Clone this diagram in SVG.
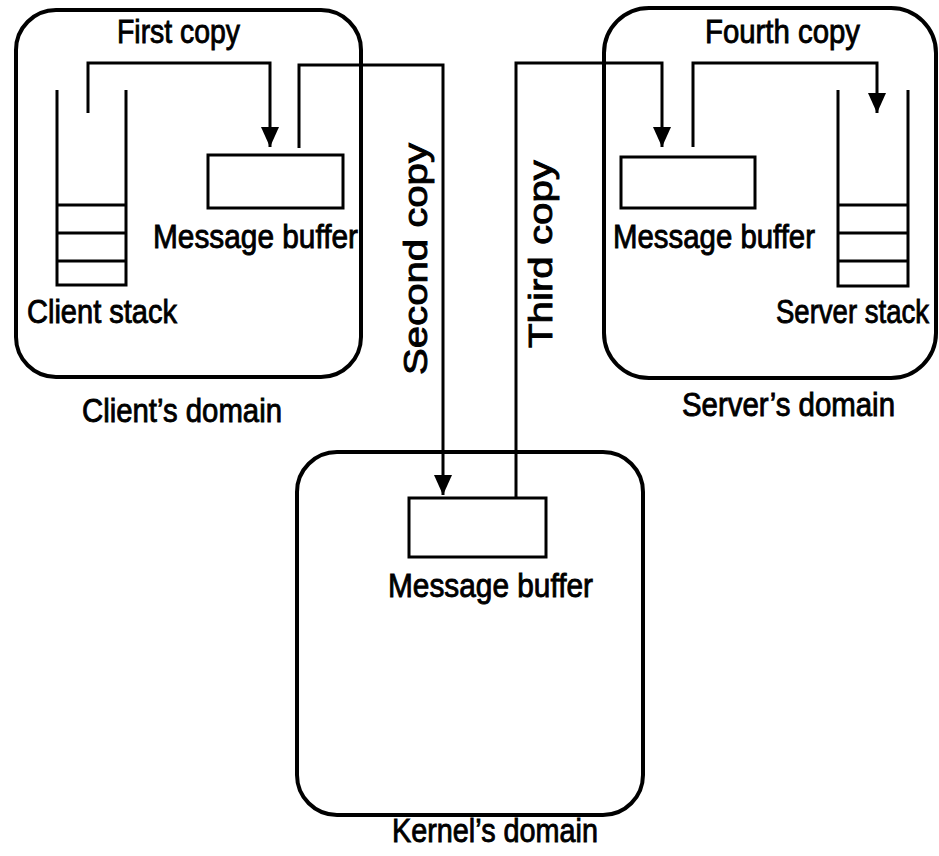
<svg xmlns="http://www.w3.org/2000/svg" width="939" height="856" viewBox="0 0 939 856">
  <defs>
    <style>
      .domain { fill: none; stroke: #000; stroke-width: 4; }
      .buf { fill: #fff; stroke: #000; stroke-width: 3; }
      .stk { fill: none; stroke: #000; stroke-width: 3; }
      .wire { fill: none; stroke: #000; stroke-width: 3; }
      text { font-family: "Liberation Sans", Arial, sans-serif; font-size: 34px; fill: #000; stroke: #000; stroke-width: 0.9; }
    </style>
    <marker id="arrow" markerUnits="userSpaceOnUse" markerWidth="20" markerHeight="18" viewBox="0 0 20 18" refX="20" refY="9" orient="auto">
      <path d="M0,0 L20,9 L0,18 Z" fill="#000"/>
    </marker>
  </defs>
  <rect width="939" height="856" fill="#fff"/>

  <!-- Client's domain -->
  <g id="client-domain">
    <rect class="domain" x="16" y="10" width="345" height="367" rx="40" ry="40"/>
    <text x="82" y="422" textLength="200" lengthAdjust="spacingAndGlyphs">Client’s domain</text>
  </g>
  <g id="client-stack">
    <path class="stk" d="M57,90 V285 H126 V90 M57,205 H126 M57,233 H126 M57,261 H126"/>
    <text x="27" y="323" textLength="150" lengthAdjust="spacingAndGlyphs">Client stack</text>
  </g>
  <g id="client-buffer">
    <rect class="buf" x="208" y="155" width="135" height="53"/>
    <text x="153" y="248" textLength="205" lengthAdjust="spacingAndGlyphs">Message buffer</text>
  </g>

  <!-- Server's domain -->
  <g id="server-domain">
    <rect class="domain" x="604" y="8" width="332" height="370" rx="45" ry="45"/>
    <text x="682" y="416" textLength="213" lengthAdjust="spacingAndGlyphs">Server’s domain</text>
  </g>
  <g id="server-buffer">
    <rect class="buf" x="621" y="157" width="134" height="51"/>
    <text x="613" y="248" textLength="202" lengthAdjust="spacingAndGlyphs">Message buffer</text>
  </g>
  <g id="server-stack">
    <path class="stk" d="M838,90 V286 H908 V90 M838,205 H908 M838,233 H908 M838,261 H908"/>
    <text transform="translate(776,323) scale(0.81,1)">Server stack</text>
  </g>

  <!-- Kernel's domain -->
  <g id="kernel-domain">
    <rect class="domain" x="297" y="452" width="346" height="363" rx="40" ry="40"/>
    <text x="392" y="842" textLength="206" lengthAdjust="spacingAndGlyphs">Kernel’s domain</text>
  </g>
  <g id="kernel-buffer">
    <rect class="buf" x="409" y="498" width="137" height="59"/>
    <text x="388" y="597" textLength="205" lengthAdjust="spacingAndGlyphs">Message buffer</text>
  </g>

  <!-- Copy paths -->
  <g id="connectors">
    <path class="wire" d="M88,113 V63 H270 V147" marker-end="url(#arrow)"/>
    <path class="wire" d="M299,148 V65 H443 V495" marker-end="url(#arrow)"/>
    <path class="wire" d="M516,498 V63 H662 V147" marker-end="url(#arrow)"/>
    <path class="wire" d="M693,147 V63 H877 V113" marker-end="url(#arrow)"/>
    <text x="117" y="43" textLength="123" lengthAdjust="spacingAndGlyphs">First copy</text>
    <text x="705" y="43" textLength="155" lengthAdjust="spacingAndGlyphs">Fourth copy</text>
    <text transform="translate(427,375) rotate(-90)" textLength="232" lengthAdjust="spacingAndGlyphs">Second copy</text>
    <text transform="translate(552,348) rotate(-90)" textLength="188" lengthAdjust="spacingAndGlyphs">Third copy</text>
  </g>
</svg>
